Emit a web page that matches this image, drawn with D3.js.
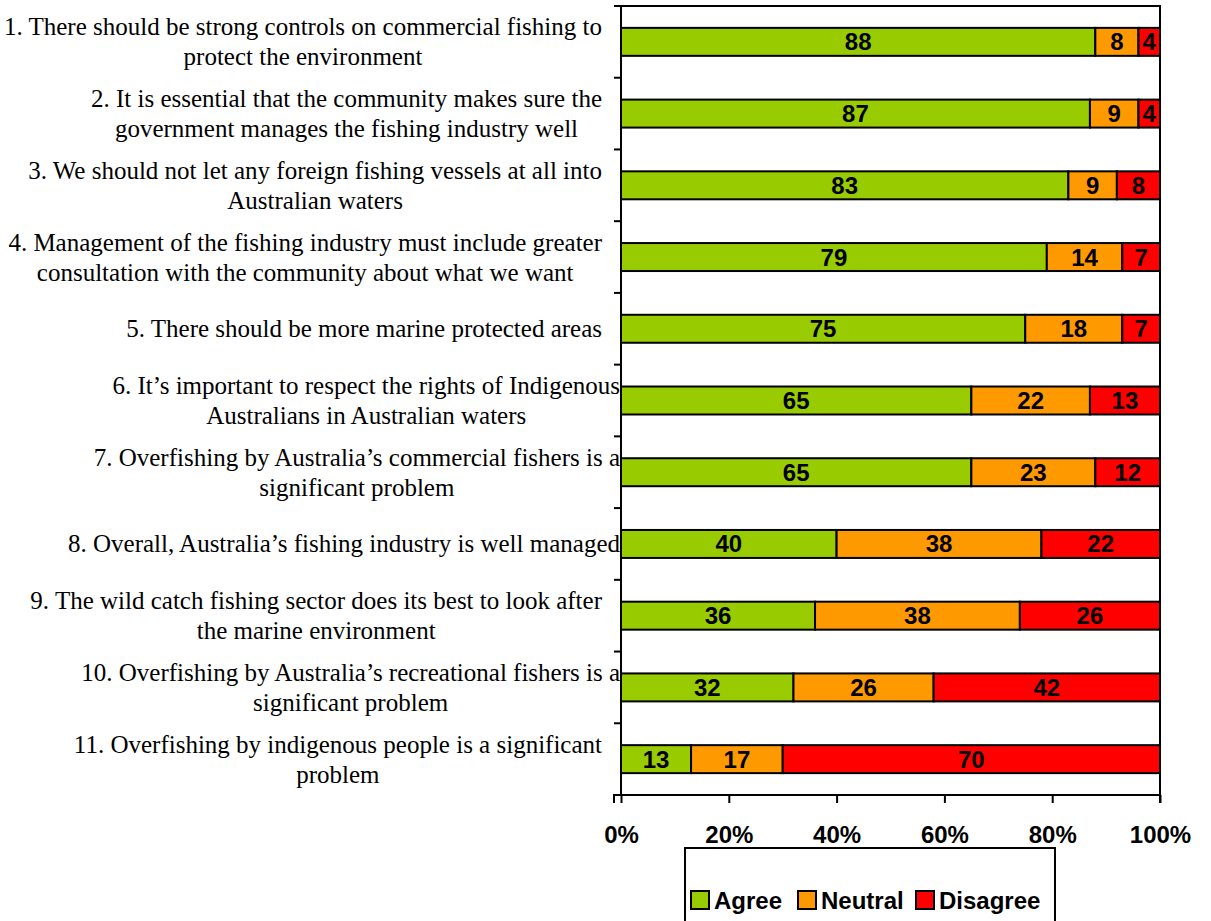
<!DOCTYPE html>
<html>
<head>
<meta charset="utf-8">
<script src="https://cdn.jsdelivr.net/npm/d3@7"></script>
<style>
  html, body { margin: 0; padding: 0; background: #fff; }
  svg { display: block; }
</style>
</head>
<body>
<svg id="chart" width="1211" height="921"></svg>
<script>
// Survey statements, each already split into its display lines
const statements = [
  ["1. There should be strong controls on commercial fishing to", "protect the environment"],
  ["2. It is essential that the community makes sure the", "government manages the fishing industry well"],
  ["3. We should not let any foreign fishing vessels at all into", "Australian waters"],
  ["4. Management of the fishing industry must include greater", "consultation with the community about what we want"],
  ["5. There should be more marine protected areas"],
  ["6. It\u2019s important to respect the rights of Indigenous", "Australians in Australian waters"],
  ["7. Overfishing by Australia\u2019s commercial fishers is a", "significant problem"],
  ["8. Overall, Australia\u2019s fishing industry is well managed"],
  ["9. The wild catch fishing sector does its best to look after", "the marine environment"],
  ["10. Overfishing by Australia\u2019s recreational fishers is a", "significant problem"],
  ["11. Overfishing by indigenous people is a significant", "problem"]
];

// Percentage of respondents per response
const agree    = [88, 87, 83, 79, 75, 65, 65, 40, 36, 32, 13];
const neutral  = [8, 9, 9, 14, 18, 22, 23, 38, 38, 26, 17];
const disagree = [4, 4, 8, 7, 7, 13, 12, 22, 26, 42, 70];

const seriesNames = ["Agree", "Neutral", "Disagree"];
const seriesColors = ["#99CC00", "#FF9900", "#FF0000"];
const xTickValues = [0, 20, 40, 60, 80, 100];

// Statements whose first line runs past the usual label edge
const wideLabels = new Set([5, 6, 7, 9]);

const rows = statements.map((s, i) => ({
  id: i, Agree: agree[i], Neutral: neutral[i], Disagree: disagree[i]
}));

const svg = d3.select("#chart");
const plot = { left: 621, right: 1160, top: 6, bottom: 795 };

const x = d3.scaleLinear().domain([0, 100]).range([plot.left, plot.right]);
const y = d3.scaleBand().domain(d3.range(statements.length))
  .range([plot.top, plot.bottom]).padding(0);
const barH = y.bandwidth() * 0.39;

const stack = d3.stack().keys(seriesNames);
const layers = stack(rows);
const color = d3.scaleOrdinal().domain(seriesNames).range(seriesColors);

// Plot frame (top and right edges)
svg.append("path")
  .attr("d", `M${plot.left},${plot.top}H${plot.right}V${plot.bottom}`)
  .attr("fill", "none").attr("stroke", "#000").attr("stroke-width", 2);

// Stacked bars
const layerG = svg.append("g").selectAll("g").data(layers).join("g")
  .attr("fill", d => color(d.key));

layerG.selectAll("rect").data(d => d).join("rect")
  .attr("x", d => x(d[0]))
  .attr("width", d => x(d[1]) - x(d[0]))
  .attr("y", (d, i) => y(i) + (y.bandwidth() - barH) / 2)
  .attr("height", barH)
  .attr("stroke", "#000").attr("stroke-width", 2);

// Value labels centred in each segment
layers.forEach(layer => {
  svg.append("g").selectAll("text").data(layer).join("text")
    .attr("x", d => (x(d[0]) + x(d[1])) / 2)
    .attr("y", (d, i) => y(i) + y.bandwidth() / 2)
    .attr("text-anchor", "middle")
    .attr("dominant-baseline", "central")
    .attr("font-family", "Liberation Sans, Arial, sans-serif")
    .attr("font-weight", "bold")
    .attr("font-size", 24)
    .attr("fill", "#000")
    .text(d => d.data[layer.key]);
});

// Left axis: ticks on category boundaries
const yAxisG = svg.append("g");
yAxisG.append("line")
  .attr("x1", plot.left).attr("x2", plot.left)
  .attr("y1", plot.top).attr("y2", plot.bottom)
  .attr("stroke", "#000").attr("stroke-width", 2);
const boundaries = d3.range(statements.length + 1).map(i => plot.top + i * y.step());
yAxisG.selectAll(".tick").data(boundaries).join("line")
  .attr("x1", plot.left - 7).attr("x2", plot.left)
  .attr("y1", d => d).attr("y2", d => d)
  .attr("stroke", "#000").attr("stroke-width", 2);

// Bottom axis
const xAxis = d3.axisBottom(x).tickValues(xTickValues)
  .tickFormat(d => d + "%").tickSize(8).tickPadding(23);
const xAxisG = svg.append("g")
  .attr("transform", `translate(0,${plot.bottom})`)
  .call(xAxis);
xAxisG.select(".domain").attr("stroke", "#000").attr("stroke-width", 2)
  .attr("d", `M${plot.left - 7},8V0H${plot.right}V8`);
xAxisG.selectAll(".tick line").attr("stroke", "#000").attr("stroke-width", 2);
xAxisG.selectAll(".tick text")
  .attr("font-family", "Liberation Sans, Arial, sans-serif")
  .attr("font-weight", "bold")
  .attr("font-size", 24)
  .attr("fill", "#000");

// Category labels: block right-aligned, lines centred within the block
const lineH = 30;
const labelG = svg.append("g")
  .attr("font-family", "Liberation Serif, Times New Roman, serif")
  .attr("font-size", 25)
  .attr("fill", "#000");

statements.forEach((lines, i) => {
  const g = labelG.append("g");
  const texts = g.selectAll("text").data(lines).join("text")
    .attr("dominant-baseline", "central")
    .attr("text-anchor", "middle")
    .text(d => d);
  const widths = texts.nodes().map(n => n.getComputedTextLength());
  const blockW = d3.max(widths);
  const rightEdge = wideLabels.has(i) ? 620 : 602;
  const cx = rightEdge - blockW / 2;
  const cy = y(i) + y.bandwidth() / 2;
  texts.attr("x", cx)
    .attr("y", (d, j) => cy + (j - (lines.length - 1) / 2) * lineH);
});

// Legend
const legend = { x: 685, y: 848, w: 370, h: 90 };
const legG = svg.append("g");
legG.append("rect")
  .attr("x", legend.x).attr("y", legend.y)
  .attr("width", legend.w).attr("height", legend.h)
  .attr("fill", "#fff").attr("stroke", "#000").attr("stroke-width", 2);

const legX = [691, 798, 916];
const legY = 900;
seriesNames.forEach((name, i) => {
  legG.append("rect")
    .attr("x", legX[i]).attr("y", legY - 9)
    .attr("width", 18).attr("height", 18)
    .attr("fill", seriesColors[i]).attr("stroke", "#000").attr("stroke-width", 2);
  legG.append("text")
    .attr("x", legX[i] + 23).attr("y", legY)
    .attr("dominant-baseline", "central")
    .attr("font-family", "Liberation Sans, Arial, sans-serif")
    .attr("font-weight", "bold")
    .attr("font-size", 24)
    .attr("fill", "#000")
    .text(name);
});
</script>
</body>
</html>
